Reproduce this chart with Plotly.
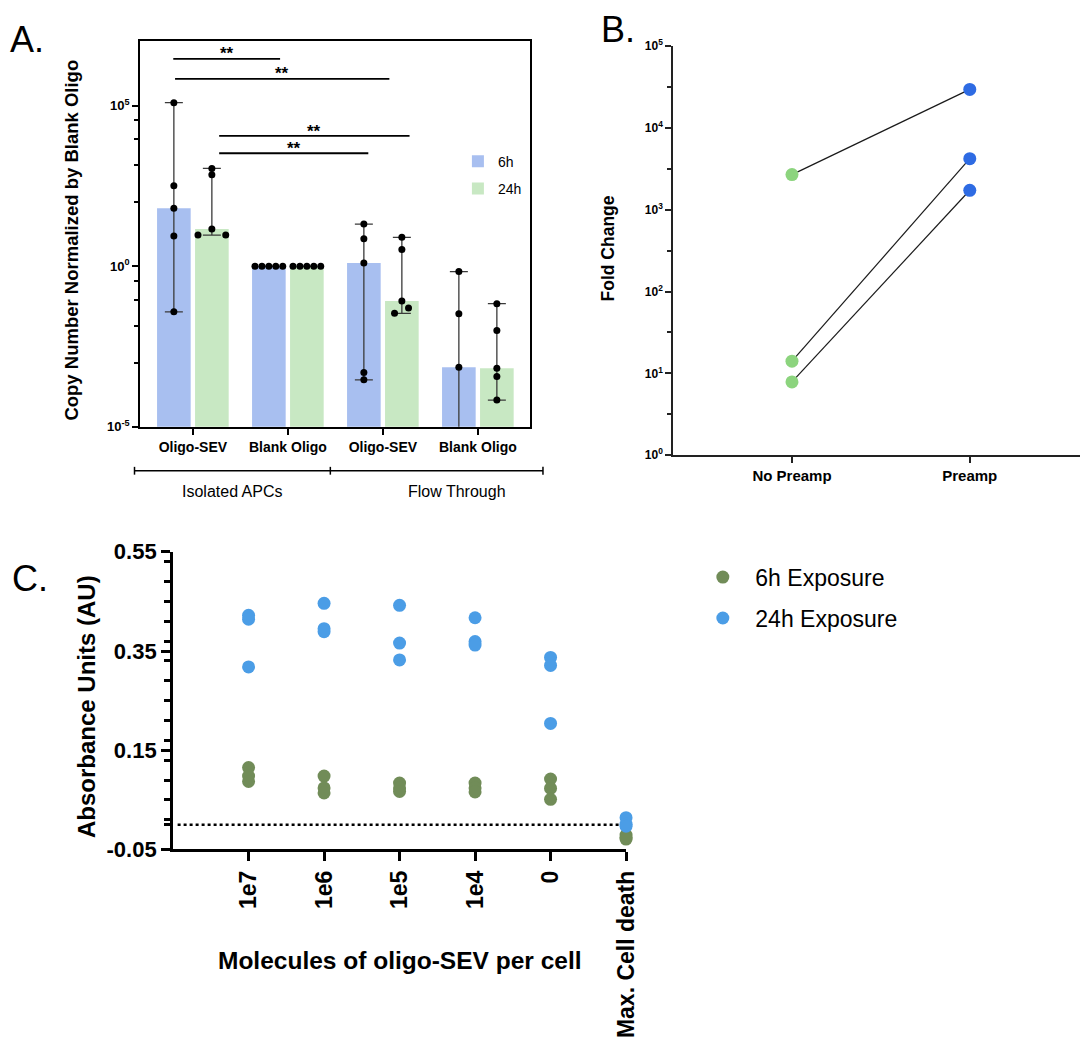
import numpy as np
import plotly.graph_objects as go

W, H = 1092, 1045
def px(x):
    return x / W
def py(y):
    return 1 - y / H

FONT = "Liberation Sans, Arial, Helvetica, sans-serif"

# ---------------- Panel A data ----------------
a_categories = ["Oligo-SEV", "Blank Oligo", "Oligo-SEV", "Blank Oligo"]
a_groups = ["Isolated APCs", "Flow Through"]
a_6h = [
    [1.23e5, 316, 63, 8.7, 0.038],
    [1, 1, 1, 1, 1],
    [20.4, 7.1, 1.26, 4.9e-4, 2.9e-4],
    [0.68, 0.033, 7.2e-4, 1e-7, 1e-7],
]
a_24h = [
    [1100, 700, 14.4, 9.3, 9.3],
    [1, 1, 1, 1, 1],
    [7.9, 3.3, 0.083, 0.050, 0.034],
    [0.068, 0.010, 6.6e-4, 3.7e-4, 6.8e-5],
]
a_6h_jitter = [[0, 0, 0, 0, 0], [-0.146, -0.073, 0, 0.073, 0.146], [0, 0, 0, 0, 0], [0, 0, 0, 0, 0]]
a_24h_jitter = [[0, 0, 0, -0.146, 0.146], [-0.146, -0.073, 0, 0.073, 0.146], [0, 0, 0, 0.07, -0.077], [0, 0, 0, 0, 0]]
a_yticks = [1e-5, 1, 1e5]
a_yticktext = ["10<sup>-5</sup>", "10<sup>0</sup>", "10<sup>5</sup>"]
a_yminor = [10**4.55, 10**3.95, 10**3.15, 10**2.0, 10**-0.45, 10**-1.05, 10**-1.85, 10**-3.0]
a_series = ["6h", "24h"]

# ---------------- Panel B data ----------------
b_categories = ["No Preamp", "Preamp"]
b_no_preamp = [2690, 14.1, 7.85]
b_preamp = [29600, 4210, 1730]
b_yticks = [1, 10, 100, 1e3, 1e4, 1e5]
b_yticktext = ["10<sup>0</sup>", "10<sup>1</sup>", "10<sup>2</sup>", "10<sup>3</sup>", "10<sup>4</sup>", "10<sup>5</sup>"]
b_yminor = [10**0.5, 10**1.5, 10**2.5, 10**3.5, 10**4.5]

# ---------------- Panel C data ----------------
c_categories = ["1e7", "1e6", "1e5", "1e4", "0", "Max. Cell death"]
c_6h = [[0.115, 0.098, 0.087], [0.098, 0.074, 0.064], [0.084, 0.074, 0.067],
        [0.084, 0.074, 0.066], [0.092, 0.073, 0.051], [-0.021, -0.026, -0.029]]
c_24h = [[0.422, 0.414, 0.318], [0.446, 0.395, 0.389], [0.442, 0.366, 0.332],
         [0.417, 0.369, 0.362], [0.337, 0.321, 0.204], [0.014, 0.001, -0.003]]
c_series = ["6h Exposure", "24h Exposure"]
c_yticks = [-0.05, 0.15, 0.35, 0.55]
c_yticktext = ["-0.05", "0.15", "0.35", "0.55"]
c_yminor = [0.53, 0.49, 0.45, 0.41, 0.37, 0.33, 0.29, 0.25, 0.21, 0.17, 0.13, 0.09, 0.05, 0.01, 0.0]

BAR_BLUE = "#A8BFF0"
BAR_GREEN = "#C8E8C3"
B_GREEN = "#8CD47E"
B_BLUE = "#2E6BE3"
C_GREEN = "#718C58"
C_BLUE = "#4B9DE6"

fig = go.Figure()

# ---- Panel A bars, error bars, dots ----
offsets = [-0.2, 0.2]
bar_colors = [BAR_BLUE, BAR_GREEN]
for s, data in enumerate([a_6h, a_24h]):
    med = [float(np.median(v)) for v in data]
    fig.add_trace(go.Bar(
        x=list(range(len(a_categories))), y=med, width=0.354, offset=offsets[s] - 0.177,
        marker=dict(color=bar_colors[s], line=dict(width=0)), name=a_series[s],
        xaxis="x", yaxis="y", legend="legend", legendgroup=a_series[s]))
for s, (data, jit) in enumerate([(a_6h, a_6h_jitter), (a_24h, a_24h_jitter)]):
    med = [float(np.median(v)) for v in data]
    hi = [max(v) - m for v, m in zip(data, med)]
    lo = [m - min(v) for v, m in zip(data, med)]
    fig.add_trace(go.Scatter(
        x=[i + offsets[s] for i in range(len(a_categories))], y=med, mode="markers",
        marker=dict(size=1, opacity=0), showlegend=False,
        error_y=dict(type="data", symmetric=False, array=hi, arrayminus=lo,
                     color="#3a3a3a", thickness=1.3, width=9),
        xaxis="x", yaxis="y"))
    xs, ys = [], []
    for i, v in enumerate(data):
        for val, j in zip(v, jit[i]):
            xs.append(i + offsets[s] + j)
            ys.append(val)
    fig.add_trace(go.Scatter(x=xs, y=ys, mode="markers",
                             marker=dict(color="black", size=7), showlegend=False,
                             xaxis="x", yaxis="y"))

# ---- Panel B ----
for a, b in zip(b_no_preamp, b_preamp):
    fig.add_trace(go.Scatter(
        x=b_categories, y=[a, b], mode="lines+markers",
        line=dict(color="#1a1a1a", width=1.2),
        marker=dict(color=[B_GREEN, B_BLUE], size=13),
        showlegend=False, xaxis="x2", yaxis="y2"))

# ---- Panel C ----
for s, (data, col) in enumerate([(c_6h, C_GREEN), (c_24h, C_BLUE)]):
    xs, ys = [], []
    for i, v in enumerate(data):
        for val in v:
            xs.append(c_categories[i])
            ys.append(val)
    fig.add_trace(go.Scatter(
        x=xs, y=ys, mode="markers", marker=dict(color=col, size=13),
        name=c_series[s], cliponaxis=False, xaxis="x3", yaxis="y3",
        legend="legend2", legendgroup=c_series[s]))

bold = dict(family=FONT, color="black", weight="bold")

layout = dict(
    width=W, height=H, margin=dict(l=0, r=0, t=0, b=0),
    plot_bgcolor="white", paper_bgcolor="white",
    font=dict(family=FONT, color="black"),
    barmode="overlay",
    xaxis=dict(domain=[px(141.7), px(536)], anchor="y", range=[-0.555, 3.55],
               tickvals=list(range(4)), ticktext=a_categories,
               showline=True, mirror=True, linecolor="black", linewidth=2,
               ticks="outside", ticklen=6, tickwidth=1.5, tickcolor="black",
               tickfont=dict(size=14, **bold), showgrid=False, zeroline=False),
    yaxis=dict(domain=[py(425), py(30)], anchor="x", type="log", range=[-5, 7],
               tickvals=a_yticks, ticktext=a_yticktext,
               showline=True, mirror=True, linecolor="black", linewidth=2,
               ticks="outside", ticklen=6, tickwidth=1.5, tickcolor="black",
               minor=dict(tickvals=a_yminor, ticks="outside", ticklen=4, tickwidth=1.5, tickcolor="black"),
               tickfont=dict(size=13, **bold), showgrid=False, zeroline=False),
    xaxis2=dict(domain=[px(680.7), 1.0], anchor="y2", type="category", range=[-0.668, 1.62],
                showline=True, linecolor="#222", linewidth=2,
                ticks="outside", ticklen=6, tickwidth=1.5, tickcolor="#222",
                tickfont=dict(size=15, **bold), showgrid=False, zeroline=False),
    yaxis2=dict(domain=[py(454), py(35)], anchor="x2", type="log", range=[0, 5],
                tickvals=b_yticks, ticktext=b_yticktext,
                showline=True, linecolor="#222", linewidth=2,
                ticks="outside", ticklen=6, tickwidth=1.5, tickcolor="#222",
                minor=dict(tickvals=b_yminor, ticks="outside", ticklen=4, tickwidth=1.5, tickcolor="#222"),
                tickfont=dict(size=12, **bold), showgrid=False, zeroline=False),
    xaxis3=dict(domain=[px(175), px(633)], anchor="y3", type="category", range=[-1, 5],
                categoryorder="array", categoryarray=c_categories,
                showline=True, linecolor="black", linewidth=3,
                ticks="outside", ticklen=9, tickwidth=3, tickcolor="black", tickangle=-90,
                tickfont=dict(size=23, **bold), showgrid=False, zeroline=False),
    yaxis3=dict(domain=[py(858), py(553)], anchor="x3", range=[-0.05, 0.55],
                tickvals=c_yticks, ticktext=c_yticktext,
                showline=True, linecolor="black", linewidth=3,
                ticks="outside", ticklen=9, tickwidth=3, tickcolor="black",
                minor=dict(tickvals=c_yminor, ticks="outside", ticklen=6, tickwidth=2.5, tickcolor="black"),
                tickfont=dict(size=22, **bold), showgrid=False, zeroline=False),
    legend=dict(x=px(463), y=py(137), xanchor="left", yanchor="top",
                font=dict(size=14, family=FONT), bgcolor="rgba(0,0,0,0)",
                traceorder="grouped", tracegroupgap=6),
    legend2=dict(x=px(698), y=py(557), xanchor="left", yanchor="top",
                 font=dict(size=23, family=FONT), bgcolor="rgba(0,0,0,0)",
                 traceorder="grouped", tracegroupgap=8, itemwidth=55),
)
fig.update_layout(**layout)

annotations = []
shapes = []

def ann(text, x, y, size, weight="normal", angle=0, xanchor="center", yanchor="middle"):
    annotations.append(dict(text=text, x=px(x), y=py(y), xref="paper", yref="paper",
                            showarrow=False, textangle=angle, xanchor=xanchor, yanchor=yanchor,
                            font=dict(size=size, family=FONT, color="black", weight=weight)))

# Panel letters
ann("A.", 8, 28, 36, xanchor="left")
ann("B.", 606, 18, 36, xanchor="left")
ann("C.", 10, 580, 36, xanchor="left")

# Axis titles
ann("Copy Number Normalized by Blank Oligo", 72, 234, 18.5, "bold", -90)
ann("Fold Change", 615, 242, 17.5, "bold", -90)
ann("Absorbance Units (AU)", 88, 712, 24, "bold", -90)
ann("Molecules of oligo-SEV per cell", 404, 972, 24.5, "bold")

# Significance bars in panel A
sig = [(175.2, 283.2, 48), (177, 393.7, 68.5), (221.6, 414.1, 127), (221.6, 372.4, 144.7)]
for x0, x1, y in sig:
    shapes.append(dict(type="line", xref="paper", yref="paper", x0=px(x0), x1=px(x1),
                       y0=py(y), y1=py(y), line=dict(color="black", width=1.8)))
    ann("**", (x0 + x1) / 2, y - 5, 17, "bold")

# Group bracket under panel A
bx = [136, 334, 549]
shapes.append(dict(type="line", xref="paper", yref="paper", x0=px(bx[0]), x1=px(bx[2]),
                   y0=py(470), y1=py(470), line=dict(color="black", width=1.5)))
for xv in bx:
    shapes.append(dict(type="line", xref="paper", yref="paper", x0=px(xv), x1=px(xv),
                       y0=py(466), y1=py(474), line=dict(color="black", width=1.5)))
ann(a_groups[0], 235, 491, 16)
ann(a_groups[1], 462, 491, 16)

# Dotted baseline in panel C
shapes.append(dict(type="line", xref="x3 domain", yref="y3", x0=0.01, x1=0.987, y0=0, y1=0,
                   line=dict(color="black", width=2.5, dash="dot")))

fig.update_layout(annotations=annotations, shapes=shapes)
fig.write_html("out.html")
